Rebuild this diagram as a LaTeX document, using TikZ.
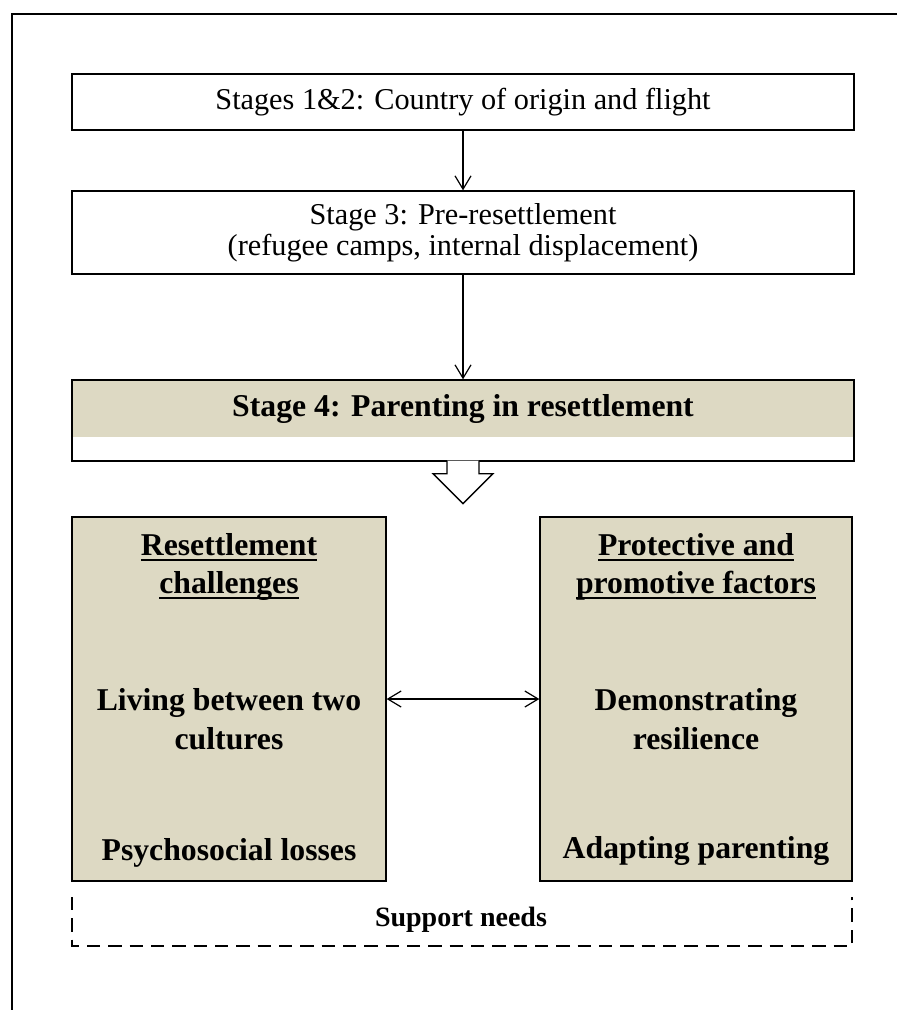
\documentclass[tikz,border=0pt]{standalone}
\usepackage{fontspec}
\setmainfont{Liberation Serif}
\usetikzlibrary{arrows.meta,positioning,calc}
\definecolor{stagetan}{HTML}{DDD9C3}
\newcommand{\thickul}[1]{{\setbox0\hbox{#1}\rlap{\rule[-4pt]{\wd0}{1.5pt}}\box0}}
\tikzset{
  stagebox/.style={draw,line width=1pt,minimum width=586.5pt,inner sep=0pt},
  tanbox/.style={draw,line width=1pt,fill=stagetan,minimum width=235.5pt,minimum height=273pt,inner sep=0pt},
  plain/.style={font=\fontsize{22.7}{23.25}\selectfont,align=center},
  heavy/.style={font=\fontsize{23.8}{29}\selectfont\bfseries,align=center},
  flow/.style={-{Straight Barb[length=10pt,width=12pt]},line width=0.9pt},
  twoway/.style={{Straight Barb[length=10pt,width=12pt]}-{Straight Barb[length=10pt,width=12pt]},line width=0.9pt},
}

\begin{document}
\begin{tikzpicture}[x=0.75pt,y=-0.75pt]
    \useasboundingbox (0,0) rectangle (897,1010);
    \draw[line width=1.6pt] (897,14) -- (12,14) -- (12,1010);
    % stages
    \node[stagebox,minimum height=42pt,plain] (origin) at (463,102) {Stages 1\&2: Country of origin and flight};
    \node[stagebox,minimum height=62.25pt,plain] (camps) at (463,232.5) {Stage 3: Pre-resettlement\\(refugee camps, internal displacement)};
    \node[stagebox,minimum height=60.75pt,path picture={\fill[stagetan] (path picture bounding box.north west) rectangle ([yshift=18pt]path picture bounding box.south east);}] (stagefour) at (463,420.5) {};
    \node[heavy] (stagetitle) at (463,409) {Stage 4: Parenting in resettlement};
    \draw[flow] (origin) -- (camps);
    \draw[flow] (camps) -- (stagefour);
    \draw[line width=1pt,fill=white] ($(stagefour.south)+(-16,-1)$) -- ++(0,13) -- ++(-14,0) -- ($(stagefour.south)+(0,42)$) -- ($(stagefour.south)+(30,12)$) -- ++(-14,0) -- ($(stagefour.south)+(16,-1)$);
    % resettlement
    \node[tanbox] (challenges) at (229,699) {};
    \node[tanbox,minimum width=234pt] (factors) at (696,699) {};
    \draw[twoway] (challenges) -- (factors);
    \node[heavy] (challengeshead) at (229,567) {\thickul{Resettlement}\\\thickul{challenges}};
    \node[heavy] (twocultures) at (229,719) {Living between two\\cultures};
    \node[heavy] (losses) at (229,853) {Psychosocial losses};
    \node[heavy] (factorshead) at (696,567) {\thickul{Protective and}\\\thickul{promotive factors}};
    \node[heavy] (resilience) at (696,719) {Demonstrating\\resilience};
    \node[heavy] (adapting) at (696,851) {Adapting parenting};
    % support
    \draw[line width=1pt,dash pattern=on 10pt off 6pt] (72,897) -- (72,946) -- (852,946) -- (852,897);
    \node[heavy,font=\fontsize{21}{24}\selectfont\bfseries] (support) at (461,920) {Support needs};
  \end{tikzpicture}
\end{document}
